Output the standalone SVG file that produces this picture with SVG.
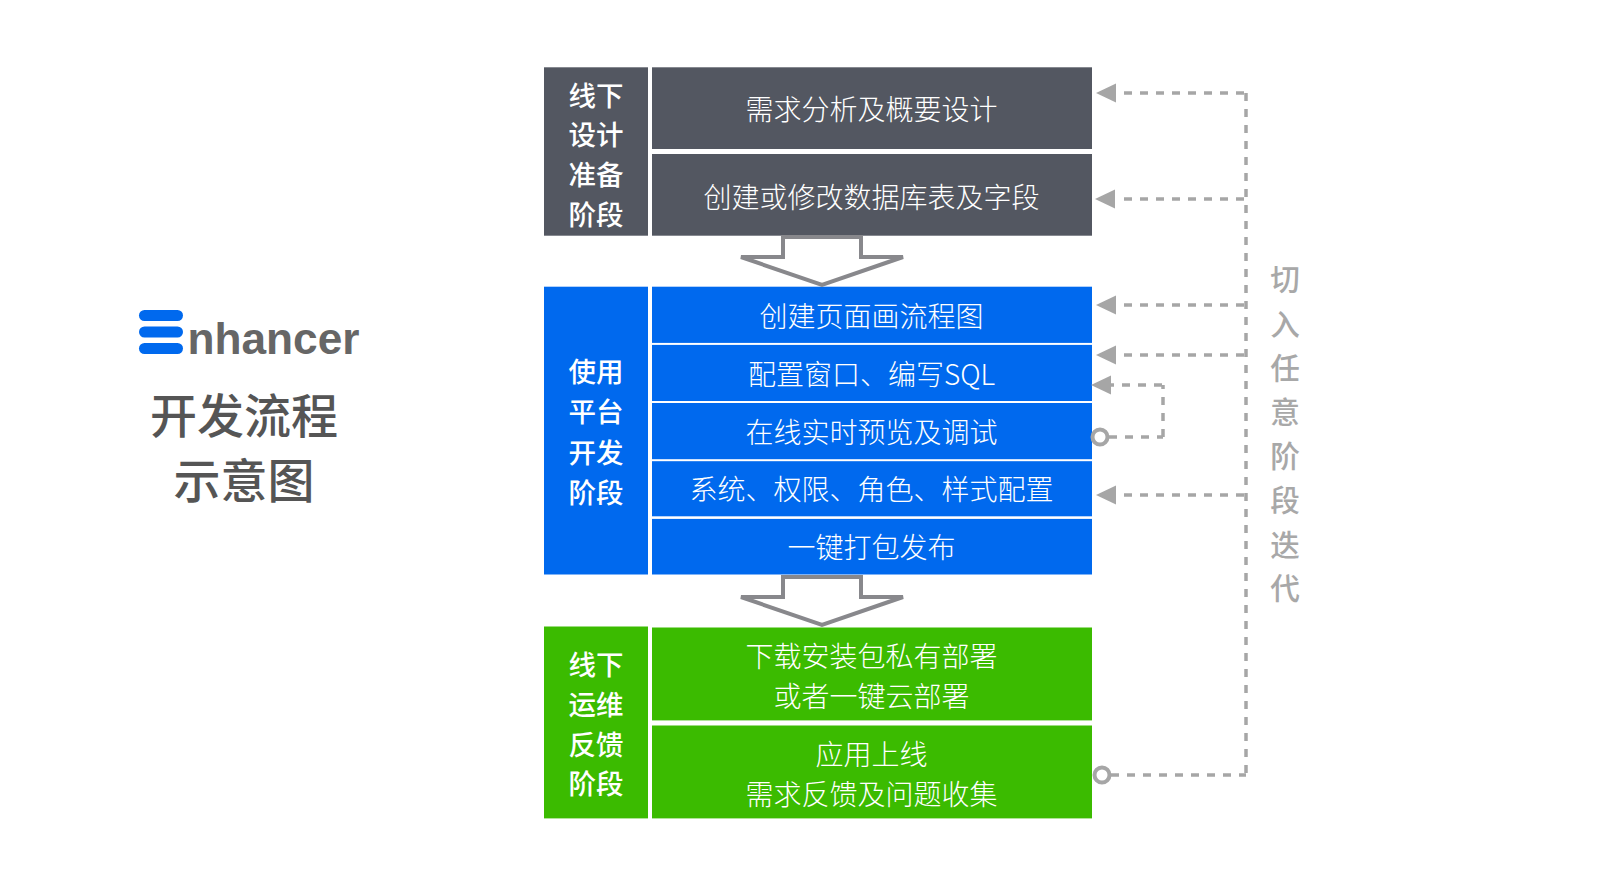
<svg xmlns="http://www.w3.org/2000/svg" width="1600" height="878" viewBox="0 0 1600 878">
<style>
text{font-family:"Noto Sans CJK SC","Liberation Sans",sans-serif;text-anchor:middle}
.t{font-size:28px;font-weight:300;fill:#fff}
.s{font-size:27.500px;font-weight:500;fill:#fff}
.v{font-size:29.600px;font-weight:500;fill:#a8a8a8}
.h{font-size:47px;font-weight:500;fill:#555}
.g{fill:#535761}.b{fill:#0069ee}.n{fill:#3bbb00}
.d{fill:none;stroke:#a6a6a6;stroke-width:3.500;stroke-dasharray:8 8}
.a{fill:#a6a6a6}
.c{fill:#fff;stroke:#a6a6a6;stroke-width:4}
.f{fill:#fff;stroke:#88888c;stroke-width:4;stroke-linejoin:miter}
</style>
<rect width="1600" height="878" fill="#fff"/>
<g id="logo">
<rect x="139" y="310" width="44" height="11" rx="5.500" class="b"/>
<rect x="139" y="326.500" width="44" height="11" rx="5.500" class="b"/>
<rect x="139" y="343" width="44" height="11" rx="5.500" class="b"/>
<text x="273.500" y="354" style="font-family:'Liberation Sans',sans-serif;font-size:44px;font-weight:700;fill:#666" textLength="172" lengthAdjust="spacingAndGlyphs">nhancer</text>
<text x="244" y="432.500" class="h">开发流程</text>
<text x="244" y="498" class="h">示意图</text>
</g>
<g id="stage1">
<rect x="544" y="67.300" width="104" height="168.400" class="g"/>
<text x="596" y="105.600" class="s">线下</text><text x="596" y="145.400" class="s">设计</text><text x="596" y="185.200" class="s">准备</text><text x="596" y="225" class="s">阶段</text>
</g>
<g id="step1-1"><rect x="652" y="67.300" width="440" height="81.700" class="g"/><text x="871.500" y="120.400" class="t">需求分析及概要设计</text></g>
<g id="step1-2"><rect x="652" y="154" width="440" height="81.700" class="g"/><text x="871.500" y="208.100" class="t">创建或修改数据库表及字段</text></g>
<g id="stage2">
<rect x="544" y="286.700" width="104" height="287.800" class="b"/>
<text x="596" y="381.800" class="s">使用</text><text x="596" y="422.400" class="s">平台</text><text x="596" y="463" class="s">开发</text><text x="596" y="503" class="s">阶段</text>
</g>
<g id="step2-1"><rect x="652" y="286.700" width="440" height="56.200" class="b"/><text x="871.500" y="326.500" class="t">创建页面画流程图</text></g>
<g id="step2-2"><rect x="652" y="344.900" width="440" height="56.100" class="b"/><text x="871.500" y="384.700" class="t">配置窗口、编写SQL</text></g>
<g id="step2-3"><rect x="652" y="403" width="440" height="56.200" class="b"/><text x="871.500" y="442.800" class="t">在线实时预览及调试</text></g>
<g id="step2-4"><rect x="652" y="461.200" width="440" height="55.100" class="b"/><text x="871.500" y="500" class="t">系统、权限、角色、样式配置</text></g>
<g id="step2-5"><rect x="652" y="518.900" width="440" height="55.600" class="b"/><text x="871.500" y="558.100" class="t">一键打包发布</text></g>
<g id="stage3">
<rect x="544" y="626.500" width="104" height="191.900" class="n"/>
<text x="596" y="674.500" class="s">线下</text><text x="596" y="714.800" class="s">运维</text><text x="596" y="754.600" class="s">反馈</text><text x="596" y="794.400" class="s">阶段</text>
</g>
<g id="step3-1"><rect x="652" y="627.500" width="440" height="92.900" class="n"/><text x="871.500" y="667.300" class="t">下载安装包私有部署</text><text x="871.500" y="707.100" class="t">或者一键云部署</text></g>
<g id="step3-2"><rect x="652" y="725.500" width="440" height="92.900" class="n"/><text x="871.500" y="765.300" class="t">应用上线</text><text x="871.500" y="805.100" class="t">需求反馈及问题收集</text></g>
<g id="iterate"><text x="1285" y="290" class="v">切</text><text x="1285" y="335" class="v">入</text><text x="1285" y="379" class="v">任</text><text x="1285" y="423" class="v">意</text><text x="1285" y="467" class="v">阶</text><text x="1285" y="511" class="v">段</text><text x="1285" y="555.500" class="v">迭</text><text x="1285" y="598.500" class="v">代</text></g>
<g id="connectors">
<path class="f" d="M783 237V257H741L822 285L903 257H861V237Z"/>
<path class="f" d="M783 577V597H741L822 625L903 597H861V577Z"/>
<path class="d" d="M1246 93V775"/>
<path class="d" d="M1124 93H1246"/><path class="d" d="M1124 199H1246"/><path class="d" d="M1124 305H1246"/><path class="d" d="M1124 355H1246"/><path class="d" d="M1124 495H1246"/>
<path class="d" d="M1111 775H1246"/>
<path class="d" d="M1109 437H1163"/><path class="d" d="M1163 437V385"/><path class="d" d="M1106 385H1163"/>
<path class="a" d="M1096 93L1116 83.500V102.500Z"/><path class="a" d="M1095 199L1115 189.500V208.500Z"/><path class="a" d="M1096 305L1116 295.500V314.500Z"/><path class="a" d="M1096 355L1116 345.500V364.500Z"/><path class="a" d="M1091 385L1111 375.500V394.500Z"/><path class="a" d="M1096 495L1116 485.500V504.500Z"/>
<circle class="c" cx="1100" cy="437" r="7.500"/><circle class="c" cx="1102" cy="775" r="7.500"/>
</g>
</svg>
